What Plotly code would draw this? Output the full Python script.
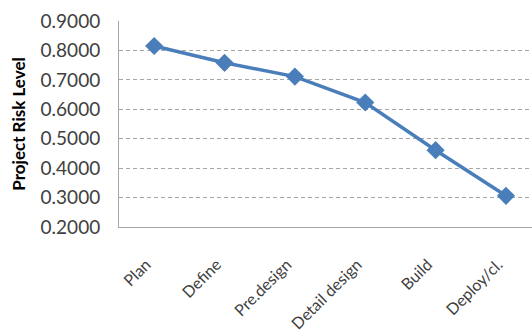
import plotly.graph_objects as go

phases = ["Plan", "Define", "Pre.design", "Detail design", "Build", "Deploy/cl."]
risk_level = [0.815, 0.758, 0.711, 0.623, 0.461, 0.306]
y_ticks = [0.2, 0.3, 0.4, 0.5, 0.6, 0.7, 0.8, 0.9]

fig = go.Figure()
fig.add_trace(go.Scatter(
    x=list(range(len(phases))),
    y=risk_level,
    mode="lines+markers",
    line=dict(color="#4A7EBB", width=3.5),
    marker=dict(symbol="diamond", size=14, color="#4A7EBB"),
    showlegend=False,
))

font_family = "Lato, 'Open Sans', sans-serif"

fig.update_layout(
    width=532, height=332,
    margin=dict(l=119, r=0, t=21, b=105),
    paper_bgcolor="white",
    plot_bgcolor="white",
    font=dict(family=font_family, size=13, color="#404040"),
    xaxis=dict(
        range=[-0.5, 5.37],
        tickmode="array",
        tickvals=list(range(len(phases))),
        ticktext=phases,
        tickangle=-45,
        showgrid=False,
        zeroline=False,
        showline=True,
        linecolor="#A6A6A6",
        linewidth=1,
        ticks="",
        ticklabelstandoff=21,
        ticklabelshift=-8,
        tickfont=dict(size=16, color="#404040"),
    ),
    yaxis=dict(
        range=[0.2, 0.9],
        tickmode="array",
        tickvals=y_ticks,
        tickformat=".4f",
        showgrid=True,
        gridcolor="#A6A6A6",
        griddash="4px,3px",
        gridwidth=1,
        zeroline=False,
        showline=True,
        linecolor="#A6A6A6",
        linewidth=1,
        ticks="",
        ticklabelstandoff=14,
        tickfont=dict(size=19, color="#404040"),
        title=dict(text="<b>Project Risk Level</b>", font=dict(size=17, color="#000000"), standoff=10),
    ),
)

fig.write_html("out.html")
